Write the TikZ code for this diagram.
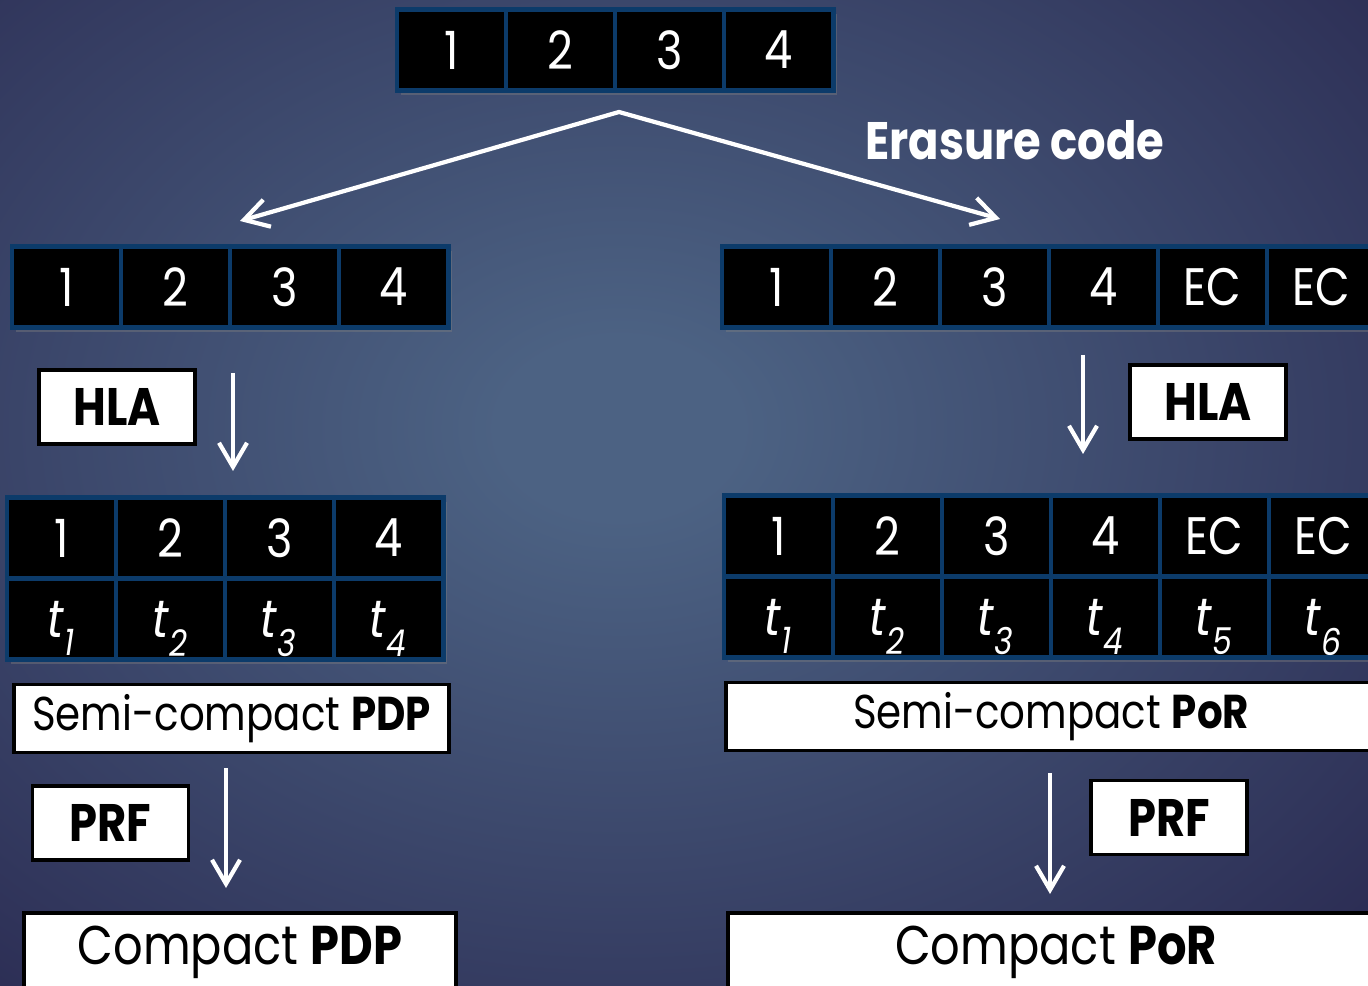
\documentclass[tikz,border=0pt]{standalone}
\usepackage{fontspec}
\setmainfont{Poppins}[FakeStretch=0.85]
\usetikzlibrary{arrows.meta,shadows}
\definecolor{cellrim}{HTML}{0C3B6A}
\definecolor{bgin}{HTML}{4C6283}
\definecolor{bgout}{HTML}{2B2C53}
\pgfdeclareradialshading{slide}{\pgfpoint{0bp}{0bp}}{%
  color(0bp)=(bgin); color(4bp)=(bgin); color(34bp)=(bgout); color(50bp)=(bgout)}
\newcommand{\tagsym}[1]{\textit{t}\raisebox{-0.35ex}[0pt][0pt]{\textsubscript{\itshape #1}}}

\begin{document}
\begin{tikzpicture}[
  x=0.01cm, y=-0.01cm,
  font=\fontsize{15}{18}\selectfont,
  cell/.style={fill=black, draw=cellrim, line width=1.4pt, text=white,
               minimum width=1.09cm, minimum height=0.81cm, inner sep=0pt,
               drop shadow={shadow xshift=1.2pt, shadow yshift=-1.2pt, opacity=.4}},
  tagbox/.style={fill=white, draw=black, line width=1.1pt, text=black,
                 minimum width=1.56cm, minimum height=0.74cm,
                 font=\fontsize{15}{18}\selectfont\bfseries},
  scheme/.style={fill=white, draw=black, line width=1.1pt, text=black,
                 minimum height=0.68cm, inner sep=0pt},
  flow/.style={draw=white, line width=1.2pt,
               -{Straight Barb[length=2.4mm,width=2.8mm]}},
]
\useasboundingbox (0,0) rectangle (1368,986);
\shade[shading=slide] (-130,-130) rectangle (1368,986);

% file blocks
\foreach \k in {1,...,4}
  \node[cell] (d\k) at ({342.5+109*\k},50) {\k};

% plain copy (left) and erasure-coded copy (right)
\foreach \k in {1,...,4}
  \node[cell] (l\k) at ({-42.5+109*\k},287) {\k};
\foreach \k/\lbl in {1/1,2/2,3/3,4/4,5/EC,6/EC}
  \node[cell] (r\k) at ({667.5+109*\k},287) {\lbl};

\coordinate (fork) at (619,112);
\coordinate (toplain) at (240,221);
\coordinate (tocoded) at (1000,219);
\draw[flow, {Straight Barb[length=2.4mm,width=2.8mm]}-{Straight Barb[length=2.4mm,width=2.8mm]}]
  (toplain) -- (fork) -- (tocoded);
\node[text=white, font=\fontsize{15}{18}\selectfont\bfseries] (ecode) at (1015,140) {Erasure code};

% HLA tags
\node[tagbox] (hlaL) at (117,407) {HLA};
\node[tagbox] (hlaR) at (1208,402) {HLA};
\coordinate (hlaLa) at (233,373);
\coordinate (hlaLb) at (233,471);
\coordinate (hlaRa) at (1083,355);
\coordinate (hlaRb) at (1083,454);
\draw[flow] (hlaLa) -- (hlaLb);
\draw[flow] (hlaRa) -- (hlaRb);

% blocks with their tags
\foreach \k in {1,...,4} {
  \node[cell] (lb\k) at ({-47.5+109*\k},538) {\k};
  \node[cell] (lt\k) at ({-47.5+109*\k},619) {\tagsym{\k}};
}
\foreach \k/\lbl in {1/1,2/2,3/3,4/4,5/EC,6/EC} {
  \node[cell] (rb\k) at ({669.5+109*\k},536) {\lbl};
  \node[cell] (rt\k) at ({669.5+109*\k},617) {\tagsym{\k}};
}

\node[scheme, minimum width=4.35cm, font=\fontsize{13.5}{16}\selectfont]
  (semiL) at (231.5,718.5) {Semi-compact \textbf{PDP}};
\node[scheme, minimum width=6.5cm, font=\fontsize{13.5}{16}\selectfont]
  (semiR) at (1051,716.5) {Semi-compact \textbf{PoR}};

% PRF step
\node[tagbox] (prfL) at (110.5,823) {PRF};
\node[tagbox] (prfR) at (1169,817.5) {PRF};
\coordinate (prfLa) at (226,768);
\coordinate (prfLb) at (226,888);
\coordinate (prfRa) at (1050,773);
\coordinate (prfRb) at (1050,894);
\draw[flow] (prfLa) -- (prfLb);
\draw[flow] (prfRa) -- (prfRb);

\node[scheme, minimum width=4.32cm, minimum height=0.78cm,
      font=\fontsize{15.5}{19}\selectfont] (compL) at (240,952) {Compact \textbf{PDP}};
\node[scheme, minimum width=6.55cm, minimum height=0.78cm,
      font=\fontsize{15.5}{19}\selectfont] (compR) at (1056,952) {Compact \textbf{PoR}};
\end{tikzpicture}
\end{document}
